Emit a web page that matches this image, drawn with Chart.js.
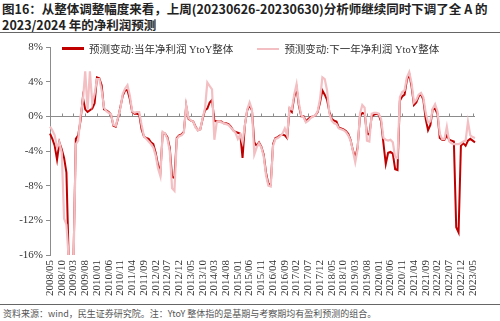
<!DOCTYPE html>
<html>
<head>
<meta charset="utf-8">
<script src="https://cdn.jsdelivr.net/npm/chart.js@4.4.0/dist/chart.umd.min.js"></script>
<style>
  html, body { margin: 0; padding: 0; background: #fff; }
  body { width: 500px; height: 321px; position: relative; overflow: hidden; font-family: "Noto Sans CJK SC", sans-serif; }
  .title { position: absolute; left: 2px; top: 1px; font-size: 12.5px; font-weight: bold; line-height: 16px; color: #222; white-space: nowrap; }
  .rule { position: absolute; left: 0; width: 500px; height: 0; border-top: 1.5px solid #666; }
  #wrap { position: absolute; left: 0; top: 35px; width: 500px; height: 268px; }
  #legend { position: absolute; top: 41px; left: 62px; display: flex; gap: 24px; font-family: "Liberation Serif", "Noto Sans CJK SC", serif; font-size: 10.5px; color: #333; }
  #legend .item { display: flex; align-items: center; }
  #legend .swatch { width: 22px; margin-right: 5px; }
  .note { position: absolute; left: 3px; top: 307px; font-size: 9px; color: #555; white-space: nowrap; }
</style>
</head>
<body>
<div class="title">图16：从整体调整幅度来看，上周(20230626-20230630)分析师继续同时下调了全 A 的<br>2023/2024 年的净利润预测</div>
<div class="rule" style="top:32px"></div>
<div id="wrap"><canvas id="myChart" width="500" height="268"></canvas></div>
<div id="legend"></div>
<div class="rule" style="top:304px"></div>
<div class="note">资料来源：wind，民生证券研究院。注：YtoY 整体指的是基期与考察期均有盈利预测的组合。</div>
<script>
// monthly categories 2008/05 .. 2023/06
const months = [];
for (let y = 2008, m = 5; y < 2023 || (y === 2023 && m <= 6); m++) {
  if (m > 12) { m = 1; y++; }
  months.push(y + '/' + String(m).padStart(2, '0'));
}

// 预测变动:当年净利润 YtoY整体 (%)
const curYear = [
  -2.0, -2.6, -3.4, -5.0, -3.0, -3.8, -4.8, -6.5, -17, -17, -16.5, -2.6,   // 2008/05-
  -2.2, -0.5, 2.2, 0.8, 0.5, 0.7, 0.9, 1.5, 4.5, 4.4, 3.6, 0.8,            // 2009/05-
  0.7, 0.5, 0.2, -1.1, -1.2, -0.2, 1.1, 2.4, 3.0, 3.0, 2.0, 0.5,           // 2010/05-
  0.3, 0.3, 0.2, -1.5, -2.3, -2.5, -2.6, -3.0, -3.2, -4.2, -5.6, -6.5,     // 2011/05-
  -1.9, -2.0, -2.4, -3.6, -7.0, -7.1, -2.5, -2.2, -2.1, -1.8, 1.2, -0.3,   // 2012/05-
  -0.5, -0.6, -1.2, -1.6, -1.5, -0.3, 0.7, 0.9, 1.6, 1.9, -0.5, -0.6,      // 2013/05-
  -0.6, -0.6, -0.8, -0.8, -0.9, -1.2, -1.6, -1.8, -1.9, -2.0, -4.8, -1.0,  // 2014/05-
  0.7, 1.3, 0.7, -3.0, -3.4, -3.0, -3.5, -4.4, -6.5, -7.8, -7.9, -3.2,     // 2015/05-
  -2.5, -2.4, -2.2, -2.1, -2.2, -2.5, 0.8, 0.5, 2.2, 3.3, 1.2, 0.0,        // 2016/05-
  0.0, -0.6, -0.3, -0.1, 0.0, 0.1, 0.5, 1.6, 3.0, 2.5, 1.9, 0.5,           // 2017/05-
  -0.3, -0.5, -0.6, -1.3, -1.4, -1.5, -1.7, -2.0, -2.7, -3.9, -4.8, -3.6,  // 2018/05-
  0.0, 0.4, 0.3, -2.0, -2.1, 0.0, 0.2, 0.3, 0.2, -0.6, -3.1, -5.5,         // 2019/05-
  -4.2, -4.1, -4.3, -6.1, -6.2, 1.8, 2.3, 2.5, 4.2, 4.9, 3.4, 1.3,         // 2020/05-
  1.6, 2.3, 2.6, 1.9, -0.3, -1.6, -1.0, 0.8, 0.9, 0.3, -2.5, -2.7,         // 2021/05-
  -2.7, -2.2, -2.7, -2.8, -2.9, -12.8, -13.4, -3.4, -3.1, -3.4, -2.8, -2.6, // 2022/05-
  -2.8, -3.0                                                               // 2023/05-
];

// 预测变动:下一年净利润 YtoY整体 (%)
const nextYear = [
  -1.2, -1.6, -2.2, -3.6, -3.0, -4.2, -11.8, -12.5, -16.5, -17, -17, -3.2,
  -2.8, 0.0, 1.8, 5.2, 0.8, 5.2, 1.5, 2.6, 4.3, 4.3, 3.0, 1.0,
  0.6, 0.4, 0.2, -1.0, -1.1, -0.1, 1.0, 2.6, 3.2, 3.6, 2.4, 0.6,
  0.4, 0.5, 0.5, -1.0, -2.3, -2.6, -2.9, -3.2, -3.6, -4.5, -6.0, -6.9,
  -1.8, -2.0, -2.6, -4.0, -8.3, -8.6, -2.6, -2.3, -2.2, -1.9, 1.3, -0.2,
  -0.5, -0.6, -1.3, -1.6, -1.5, -0.2, 0.9, 3.9, 3.5, 3.1, -2.7, -0.7,
  -0.6, -0.7, -0.8, -0.9, -1.0, -1.3, -1.6, -1.9, -2.6, -2.1, -3.0, -1.0,
  0.8, 1.6, 0.8, -4.4, -3.6, -3.1, -3.6, -4.6, -6.8, -8.0, -8.1, -3.4,
  -2.6, -2.5, -2.3, -2.0, -1.4, -2.2, 1.0, 0.8, 2.5, 3.7, 1.5, 0.1,
  -0.1, -0.7, -0.5, -0.2, 0.0, 0.1, 0.6, 2.0, 4.5, 4.3, 3.0, 0.3,
  -0.5, -0.8, -0.9, -1.4, -1.5, -1.6, -1.8, -2.2, -2.8, -4.0, -5.3, -3.8,
  0.3, 1.3, 1.0, -2.8, -2.9, 0.3, 0.4, 0.4, 0.3, -0.3, -2.5, -2.7,
  -2.8, -2.7, -3.0, -4.7, -4.8, 2.2, 2.8, 3.0, 4.5, 5.1, 3.8, 1.6,
  1.9, 2.5, 2.7, 2.2, 0.4, -0.7, -0.6, 0.9, 1.4, 0.6, -2.0, -2.6,
  -2.6, -1.2, -2.9, -3.1, -3.2, -3.2, -3.2, -3.1, -2.9, -2.8, -0.6, -2.2,
  -2.4, -2.5
];

const yTicks = [-16, -12, -8, -4, 0, 4, 8];
const labelEvery = 5;

const serif = { family: '"Liberation Serif", "Times New Roman", serif', size: 11 };

// gray axis line at 0% with short tick marks, like the original
const zeroAxis = {
  id: 'zeroAxis',
  beforeDatasetsDraw(chart) {
    const { ctx, chartArea, scales } = chart;
    const y0 = Math.round(scales.y.getPixelForValue(0)) + 0.5;
    ctx.save();
    ctx.strokeStyle = '#8c8c8c';
    ctx.lineWidth = 1;
    ctx.beginPath();
    ctx.moveTo(chartArea.left, y0);
    ctx.lineTo(chartArea.right, y0);
    months.forEach((m, i) => {
      if (i % labelEvery === 0) {
        const px = Math.round(scales.x.getPixelForValue(i)) + 0.5;
        ctx.moveTo(px, y0);
        ctx.lineTo(px, y0 - 3);
      }
    });
    ctx.stroke();
    ctx.restore();
  }
};

const ctx = document.getElementById('myChart');
const myChart = new Chart(ctx, {
  type: 'line',
  data: {
    labels: months,
    datasets: [
      {
        label: '预测变动:当年净利润 YtoY整体',
        data: curYear,
        borderColor: '#c00000',
        backgroundColor: '#c00000',
        borderWidth: 2,
        pointRadius: 0,
        order: 1
      },
      {
        label: '预测变动:下一年净利润 YtoY整体',
        data: nextYear,
        borderColor: '#f3bfc3',
        backgroundColor: '#f3bfc3',
        borderWidth: 2.2,
        pointRadius: 0,
        order: 0
      }
    ]
  },
  options: {
    responsive: false,
    animation: false,
    layout: { padding: { top: 12, right: 25, bottom: 0, left: 0 } },
    plugins: {
      legend: { display: false },
      tooltip: { enabled: false }
    },
    scales: {
      x: {
        ticks: {
          autoSkip: false,
          maxRotation: 90,
          minRotation: 90,
          padding: 5,
          color: '#333',
          font: serif,
          callback: (v, i) => (i % labelEvery === 0 ? months[i] : null)
        },
        grid: { display: false, drawTicks: false },
        border: { display: false },
        afterFit: (s) => { s.height = 48; }
      },
      y: {
        min: yTicks[0],
        max: yTicks[yTicks.length - 1],
        afterBuildTicks: (s) => { s.ticks = yTicks.map(v => ({ value: v })); },
        ticks: { color: '#333', font: serif, padding: 3, callback: v => v + '%' },
        grid: { drawOnChartArea: false, tickLength: 4, color: '#8c8c8c' },
        border: { color: '#8c8c8c' },
        afterFit: (s) => { s.width = 50; }
      }
    }
  },
  plugins: [zeroAxis]
});

// html legend built from the datasets
const legendBox = document.getElementById('legend');
myChart.data.datasets.forEach((ds, i) => {
  const item = document.createElement('div');
  item.className = 'item';
  const sw = document.createElement('span');
  sw.className = 'swatch';
  sw.style.background = ds.borderColor;
  sw.style.height = (i === 0 ? 3 : 2) + 'px';
  const txt = document.createElement('span');
  txt.textContent = ds.label;
  item.appendChild(sw);
  item.appendChild(txt);
  legendBox.appendChild(item);
});
</script>
</body>
</html>
